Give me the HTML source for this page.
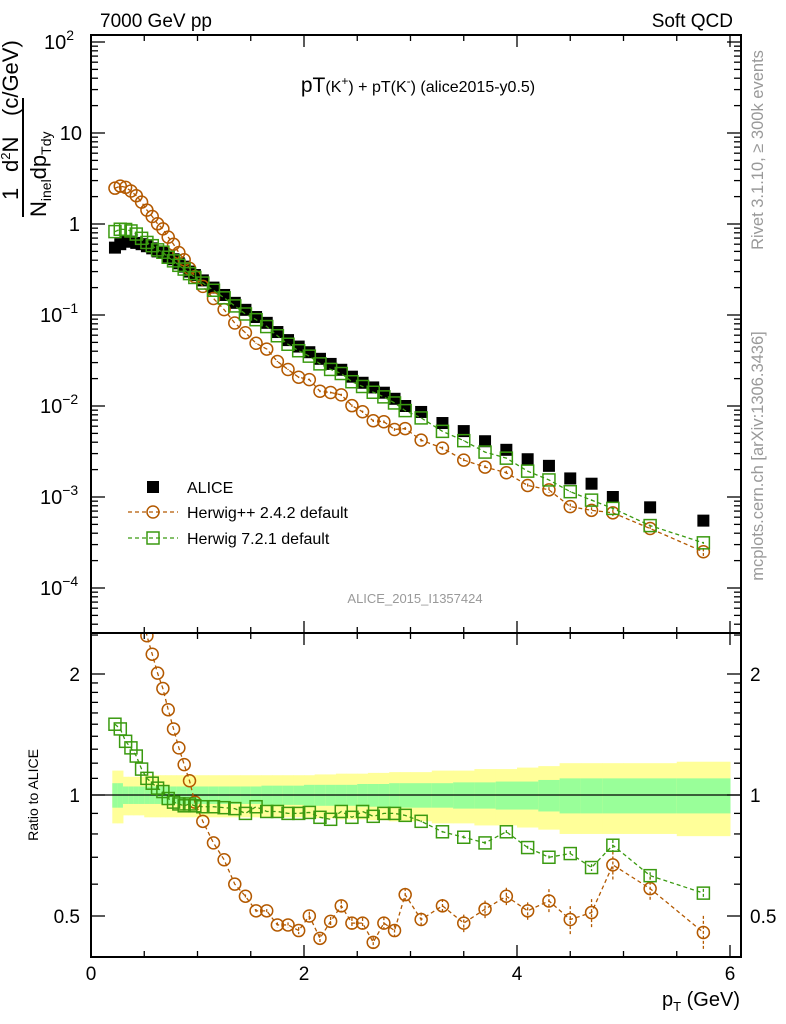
<!DOCTYPE html>
<html><head><meta charset="utf-8"><style>
html,body{margin:0;padding:0;background:#fff}
svg{display:block;font-family:"Liberation Sans",sans-serif}
</style></head><body>
<svg id="c" width="786" height="1024" viewBox="0 0 786 1024" xmlns="http://www.w3.org/2000/svg">
<g id="bands"></g>
<g id="marks"></g>
<g id="axes"></g>
<text x="100" y="27" font-size="19">7000 GeV pp</text>
<text x="733" y="27" font-size="19" text-anchor="end">Soft QCD</text>
<text x="418" y="92" font-size="21" text-anchor="middle">pT<tspan font-size="16">(K</tspan><tspan font-size="12" dy="-7">+</tspan><tspan font-size="16" dy="7">) + pT(K</tspan><tspan font-size="12" dy="-7">-</tspan><tspan font-size="16" dy="7">) (alice2015-y0.5)</tspan></text>
<text x="415" y="603" font-size="13" fill="#999" text-anchor="middle">ALICE_2015_I1357424</text>
<text transform="translate(763,150) rotate(-90)" font-size="16.5" fill="#999" text-anchor="middle">Rivet 3.1.10, ≥ 300k events</text>
<text transform="translate(763,456) rotate(-90)" font-size="16.5" fill="#999" text-anchor="middle">mcplots.cern.ch [arXiv:1306.3436]</text>
<g font-size="22">
<text transform="translate(18,200) rotate(-90)">1</text>
<text transform="translate(18,172) rotate(-90)">d<tspan font-size="13" dy="-8">2</tspan><tspan dy="8">N</tspan></text>
<line x1="23" y1="98" x2="23" y2="217" stroke="#000" stroke-width="2"/>
<text transform="translate(46,217) rotate(-90)">N<tspan font-size="14" dy="5">inel</tspan><tspan dy="-5">dp</tspan><tspan font-size="14" dy="5">Tdy</tspan></text>
<text transform="translate(18,116) rotate(-90)">(c/GeV)</text>
</g>
<text transform="translate(38,795) rotate(-90)" font-size="14" text-anchor="middle">Ratio to ALICE</text>
<text x="740" y="1006" font-size="20" text-anchor="end">p<tspan font-size="13" dy="5">T</tspan><tspan dy="-5"> (GeV)</tspan></text>
<g font-size="16">
<g><rect x="147" y="481" width="12" height="12" fill="#000"/><text x="187" y="493">ALICE</text></g>
<g><line x1="128" y1="512" x2="178" y2="512" stroke="#b35900" stroke-width="1.3" stroke-dasharray="4,3"/><circle cx="153" cy="512" r="6" fill="none" stroke="#b35900" stroke-width="1.5"/><text x="187" y="518">Herwig++ 2.4.2 default</text></g>
<g><line x1="128" y1="538" x2="178" y2="538" stroke="#3a9a10" stroke-width="1.3" stroke-dasharray="4,3"/><rect x="147" y="532" width="12" height="12" fill="none" stroke="#3a9a10" stroke-width="1.5"/><text x="187" y="544">Herwig 7.2.1 default</text></g>
</g>
</svg>
<script>
const pT=[0.225,0.275,0.325,0.375,0.425,0.475,0.525,0.575,0.625,0.675,0.725,0.775,0.825,0.875,0.925,0.975,1.05,1.15,1.25,1.35,1.45,1.55,1.65,1.75,1.85,1.95,2.05,2.15,2.25,2.35,2.45,2.55,2.65,2.75,2.85,2.95,3.1,3.3,3.5,3.7,3.9,4.1,4.3,4.5,4.7,4.9,5.25,5.75];
const binLo=[0.2,0.25,0.3,0.35,0.4,0.45,0.5,0.55,0.6,0.65,0.7,0.75,0.8,0.85,0.9,0.95,1.0,1.1,1.2,1.3,1.4,1.5,1.6,1.7,1.8,1.9,2.0,2.1,2.2,2.3,2.4,2.5,2.6,2.7,2.8,2.9,3.0,3.2,3.4,3.6,3.8,4.0,4.2,4.4,4.6,4.8,5.0,5.5];
const binHi=[0.25,0.3,0.35,0.4,0.45,0.5,0.55,0.6,0.65,0.7,0.75,0.8,0.85,0.9,0.95,1.0,1.1,1.2,1.3,1.4,1.5,1.6,1.7,1.8,1.9,2.0,2.1,2.2,2.3,2.4,2.5,2.6,2.7,2.8,2.9,3.0,3.2,3.4,3.6,3.8,4.0,4.2,4.4,4.6,4.8,5.0,5.5,6.0];
const alice=[0.55,0.60,0.64,0.64,0.62,0.60,0.57,0.54,0.50,0.48,0.44,0.41,0.37,0.34,0.30,0.275,0.24,0.20,0.166,0.136,0.114,0.095,0.082,0.065,0.053,0.045,0.039,0.033,0.029,0.025,0.021,0.018,0.016,0.014,0.012,0.010,0.0086,0.0065,0.0053,0.0041,0.0033,0.0026,0.0022,0.0016,0.0014,0.0010,0.00077,0.00055];
const ratioHpp=[4.5,4.35,3.95,3.6,3.3,2.9,2.49,2.24,2.01,1.84,1.63,1.46,1.31,1.19,1.085,0.96,0.86,0.76,0.69,0.60,0.56,0.515,0.515,0.475,0.475,0.46,0.50,0.44,0.485,0.53,0.48,0.48,0.43,0.48,0.46,0.565,0.49,0.53,0.48,0.52,0.56,0.515,0.545,0.49,0.51,0.67,0.585,0.455];
const errHpp=[0,0,0,0,0,0,0,0,0,0,0,0,0,0,0,0,0,0,0,0,0.01,0.01,0.01,0.015,0.015,0.02,0.025,0.025,0.025,0.03,0.03,0.03,0.03,0.035,0.035,0.04,0.04,0.04,0.05,0.05,0.05,0.05,0.07,0.08,0.08,0.08,0.07,0.1];
const ratioH7=[1.50,1.46,1.36,1.31,1.25,1.16,1.10,1.07,1.04,1.02,0.98,0.96,0.95,0.94,0.95,0.94,0.935,0.935,0.93,0.925,0.90,0.935,0.91,0.91,0.90,0.90,0.905,0.88,0.87,0.91,0.88,0.91,0.885,0.90,0.90,0.89,0.86,0.81,0.785,0.76,0.81,0.74,0.70,0.715,0.66,0.75,0.63,0.57];
const errH7=[0,0,0,0,0,0,0,0,0,0,0,0,0,0,0,0,0,0,0,0,0,0,0,0,0,0,0,0,0,0,0,0,0,0,0,0,0.005,0.005,0.01,0.01,0.01,0.01,0.01,0.015,0.02,0.03,0.02,0.025];
const errTot=[0.15,0.15,0.11,0.11,0.11,0.11,0.12,0.12,0.12,0.12,0.12,0.12,0.12,0.12,0.12,0.12,0.12,0.12,0.12,0.12,0.12,0.12,0.12,0.12,0.12,0.12,0.12,0.125,0.125,0.13,0.13,0.13,0.135,0.135,0.14,0.14,0.14,0.15,0.15,0.16,0.16,0.17,0.18,0.2,0.2,0.2,0.2,0.21];
const errStat=[0.07,0.07,0.05,0.05,0.05,0.05,0.05,0.05,0.05,0.05,0.05,0.05,0.05,0.05,0.05,0.05,0.05,0.05,0.05,0.05,0.05,0.05,0.055,0.055,0.055,0.055,0.06,0.06,0.06,0.06,0.06,0.065,0.065,0.065,0.07,0.07,0.07,0.07,0.075,0.075,0.08,0.08,0.09,0.1,0.1,0.1,0.1,0.1];
const xTicks=[0,2,4,6];
const yTickExp=[2,1,0,-1,-2,-3,-4];
const yTickLabels=["10","10","1","10","10","10","10"];
const yTickSup=["2","","","−1","−2","−3","−4"];
const rTicks=[2,1,0.5];
const rTickLabels=["2","1","0.5"];

const NS="http://www.w3.org/2000/svg";
const L=91,R=741,T=35,M=633,B=957;
const X=v=>L+v*(730-91)/6;
const Y=v=>224-Math.log10(v)*91;
const RY=v=>795-Math.log2(v)*121;
function el(tag,attrs,parent){const e=document.createElementNS(NS,tag);for(const k in attrs)e.setAttribute(k,attrs[k]);parent.appendChild(e);return e;}
const gB=document.getElementById('bands'),gM=document.getElementById('marks'),gA=document.getElementById('axes');
const orange="#b35900",green="#3a9a10";
for(let i=0;i<pT.length;i++){
 const x1=X(binLo[i]),x2=X(binHi[i]);
 const y=el('rect',{x:x1,y:RY(1+errTot[i]),width:x2-x1+0.5,height:RY(1-errTot[i])-RY(1+errTot[i]),fill:'#ffff99'},gB);
 
 
 const g=el('rect',{x:x1,y:RY(1+errStat[i]),width:x2-x1+0.5,height:RY(1-errStat[i])-RY(1+errStat[i]),fill:'#99ff99'},gB);
 
 
}
const ref=el('line',{x1:L,x2:R,y1:RY(1),y2:RY(1),stroke:'#000','stroke-width':1.2},gB);


const defs=el('defs',{},gM);
const c1=el('clipPath',{id:'cm'},defs);el('rect',{x:L,y:T,width:R-L,height:M-T},c1);
const c2=el('clipPath',{id:'cr'},defs);el('rect',{x:L,y:M,width:R-L,height:B-M},c2);
const mainG=el('g',{'clip-path':'url(#cm)'},gM);


const ratG=el('g',{'clip-path':'url(#cr)'},gM);


function series(parent,vals,errs,yf,color,shape,name){
 const pts=vals.map((v,i)=>X(pT[i])+','+yf(v)).join(' ');
 const pl=el('polyline',{points:pts,fill:'none',stroke:color,'stroke-width':1.3,'stroke-dasharray':'4,3'},parent);
 
 
 vals.forEach((v,i)=>{
  const x=X(pT[i]),y=yf(v);
  if(errs[i]>0){
   const e=el('line',{x1:x,x2:x,y1:yf(v*(1+errs[i])),y2:yf(v*(1-errs[i])),stroke:color,'stroke-width':1.3,'stroke-dasharray':'3,2'},parent);
   
   
  }
  let m;
  if(shape==='c') m=el('circle',{cx:x,cy:y,r:6,fill:'none',stroke:color,'stroke-width':1.5},parent);
  else m=el('rect',{x:x-6,y:y-6,width:12,height:12,fill:'none',stroke:color,'stroke-width':1.5},parent);
  
  
 });
}
alice.forEach((v,i)=>{
 const r=el('rect',{x:X(pT[i])-6,y:Y(v)-6,width:12,height:12,fill:'#000'},mainG);
 
 
});
series(mainG,alice.map((v,i)=>v*ratioHpp[i]),errHpp,Y,orange,'c','herwigpp');
series(mainG,alice.map((v,i)=>v*ratioH7[i]),errH7,Y,green,'s','herwig7');
series(ratG,ratioHpp,errHpp,RY,orange,'c','herwigpp-ratio');
series(ratG,ratioH7,errH7,RY,green,'s','herwig7-ratio');
el('rect',{x:L,y:T,width:R-L,height:M-T,fill:'none',stroke:'#000','stroke-width':2},gA);
el('rect',{x:L,y:M,width:R-L,height:B-M,fill:'none',stroke:'#000','stroke-width':2},gA);
function ln(x1,y1,x2,y2,w){el('line',{x1,y1,x2,y2,stroke:'#000','stroke-width':w||1.3},gA);}
for(let v=0;v<=6.001;v+=0.5){
 const x=X(v),maj=Math.abs(v-Math.round(v/2)*2)<1e-6;
 const len=maj?12:6;
 ln(x,B,x,B-len);ln(x,M,x,M+len);ln(x,M,x,M-len);ln(x,T,x,T+len);
}
xTicks.forEach(v=>{
 const t=el('text',{x:X(v),y:980,'font-size':19,'text-anchor':'middle'},gA);t.textContent=v;
 
 
});
for(let e=-5;e<=2;e++){
 for(let k=1;k<10;k++){
  const v=k*Math.pow(10,e),y=Y(v);
  if(y<T||y>M)continue;
  const len=k===1?14:7;
  ln(L,y,L+len,y);ln(R,y,R-len,y);
 }
}
yTickExp.forEach((e,i)=>{
 const t=el('text',{x:e===0?80:82,y:Y(Math.pow(10,e))+7,'font-size':20,'text-anchor':'end'},gA);
 
 
 if(yTickSup[i]){t.textContent=yTickLabels[i];
  const s=el('tspan',{'font-size':14,dy:-9},t);s.textContent=yTickSup[i];
  t.setAttribute('text-anchor','start');t.setAttribute('x',e>0?44:40);
 } else t.textContent=yTickLabels[i];
});
[0.5,0.6,0.7,0.8,0.9,1,1.1,1.2,1.3,1.4,1.5,1.6,1.7,1.8,1.9,2,2.5].forEach(v=>{
 const y=RY(v);if(y<M||y>B)return;
 const maj=(v===0.5||v===1||v===2);const len=maj?14:7;
 ln(L,y,L+len,y);ln(R,y,R-len,y);
});
rTicks.forEach((v,i)=>{
 const t=el('text',{x:80,y:RY(v)+7,'font-size':19,'text-anchor':'end'},gA);t.textContent=rTickLabels[i];
 
 
 const t2=el('text',{x:750,y:RY(v)+7,'font-size':19,'text-anchor':'start'},gA);t2.textContent=rTickLabels[i];
 
 
});
</script>
</body></html>
